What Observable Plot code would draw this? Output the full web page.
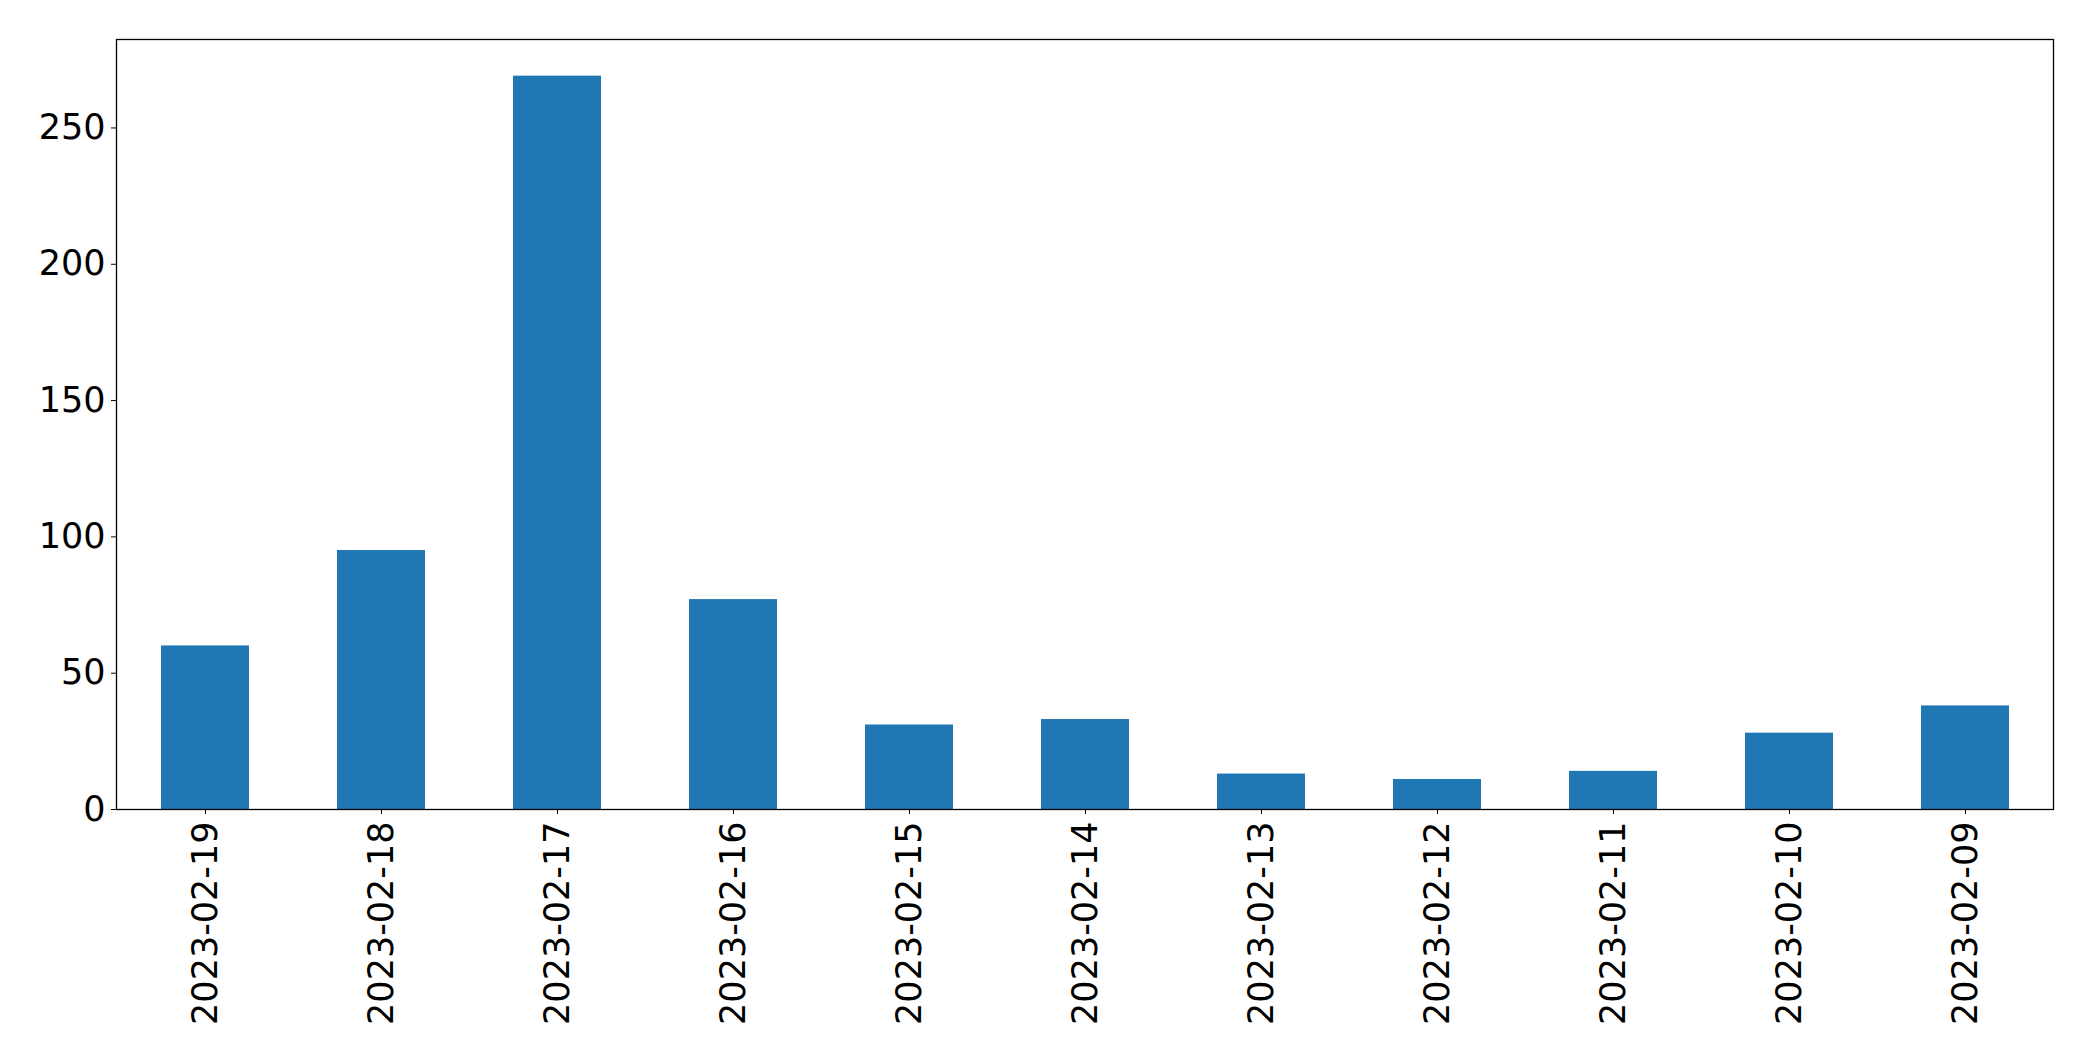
<!DOCTYPE html>
<html>
<head>
<meta charset="utf-8">
<script src="https://cdn.jsdelivr.net/npm/d3@7"></script>
<script src="https://cdn.jsdelivr.net/npm/@observablehq/plot@0.6"></script>
<style>
  html, body { margin: 0; padding: 0; background: #fff; }
  #chart svg { display: block; }
</style>
</head>
<body>
<div id="chart"></div>
<script>
const dates = ["2023-02-19","2023-02-18","2023-02-17","2023-02-16","2023-02-15","2023-02-14","2023-02-13","2023-02-12","2023-02-11","2023-02-10","2023-02-09"];
const counts = [60, 95, 269, 77, 31, 33, 13, 11, 14, 28, 38];
const yTicks = [0, 50, 100, 150, 200, 250];

const data = dates.map((d, i) => ({date: d, count: counts[i]}));
const yMax = d3.max(counts) * 1.05;

const chart = Plot.plot({
  width: 2093,
  height: 1061,
  marginLeft: 116,
  marginRight: 40,
  marginTop: 39,
  marginBottom: 252,
  style: {fontFamily: "DejaVu Sans", fontSize: "35px", color: "#000", background: "#fff"},
  x: {domain: dates, paddingInner: 0.5, paddingOuter: 0.25, label: null},
  y: {domain: [0, yMax], label: null},
  marks: [
    Plot.barY(data, {x: "date", y: "count", fill: "#1f77b4"}),
    Plot.axisY({ticks: yTicks, tickSize: 5, tickPadding: 6, label: null, fontSize: 35}),
    Plot.axisX({tickSize: 5, tickPadding: 7, tickRotate: -90, label: null, fontSize: 35}),
    Plot.frame({stroke: "#000", strokeWidth: 1.3})
  ]
});
document.getElementById("chart").appendChild(chart);
</script>
</body>
</html>
